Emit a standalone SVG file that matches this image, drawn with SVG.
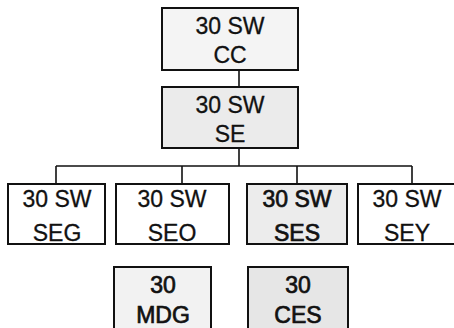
<svg xmlns="http://www.w3.org/2000/svg" width="454" height="328" viewBox="0 0 454 328">
<style>
.box{stroke:#111;stroke-width:2;}
.t{font-family:"Liberation Sans",Arial,sans-serif;font-size:23px;fill:#111;stroke:#111;stroke-width:0.3;text-anchor:middle;}
.h{stroke-width:0.7;}
.ln{stroke:#111;stroke-width:1.6;fill:none;}
</style>
<rect width="454" height="328" fill="#fff"/>
<g id="connectors">
<path class="ln" d="M239,70 V87 M239,148 V166 M56,166 H412 M56,166 V184 M182,166 V184 M297,166 V184 M412,166 V184"/>
</g>
<g id="cc">
<rect class="box" x="162" y="8" width="136" height="62" fill="#f4f4f4"/>
<text class="t" x="230" y="34">30 SW</text>
<text class="t" x="230" y="63">CC</text>
</g>
<g id="se">
<rect class="box" x="162" y="87" width="136" height="61" fill="#ebebeb"/>
<text class="t" x="230" y="113">30 SW</text>
<text class="t" x="230" y="142">SE</text>
</g>
<g id="seg">
<rect class="box" x="8" y="184" width="97" height="60" fill="#fff"/>
<text class="t" x="57" y="207">30 SW</text>
<text class="t" x="57" y="241">SEG</text>
</g>
<g id="seo">
<rect class="box" x="116" y="184" width="113" height="60" fill="#fff"/>
<text class="t" x="172" y="207">30 SW</text>
<text class="t" x="172" y="241">SEO</text>
</g>
<g id="ses">
<rect class="box" x="247" y="184" width="100" height="60" fill="#ececec"/>
<text class="t h" x="297" y="207">30 SW</text>
<text class="t h" x="297" y="241">SES</text>
</g>
<g id="sey">
<rect class="box" x="358" y="184" width="100" height="60" fill="#fff"/>
<text class="t" x="407" y="207">30 SW</text>
<text class="t" x="407" y="241">SEY</text>
</g>
<g id="mdg">
<rect class="box" x="114" y="267" width="97" height="70" fill="#f2f2f2"/>
<text class="t h" x="163" y="293">30</text>
<text class="t h" x="163" y="323">MDG</text>
</g>
<g id="ces">
<rect class="box" x="248" y="267" width="100" height="70" fill="#e6e6e6"/>
<text class="t h" x="298" y="293">30</text>
<text class="t h" x="298" y="323">CES</text>
</g>
</svg>
